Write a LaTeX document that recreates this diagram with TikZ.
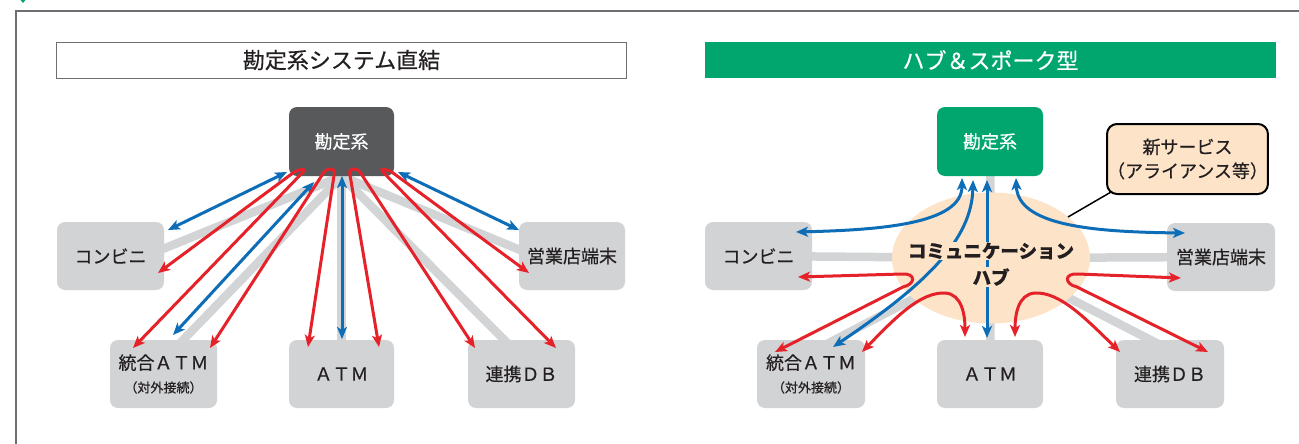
\documentclass[tikz,border=0pt]{standalone}
\usepackage{fontspec}
\setmainfont{Noto Sans CJK JP}[FakeBold=0.5]
\usetikzlibrary{arrows.meta,shapes.geometric,backgrounds,calc}
\definecolor{boxgray}{HTML}{D2D3D5}
\definecolor{darkbox}{HTML}{58595B}
\definecolor{hgreen}{HTML}{00A66E}
\definecolor{ared}{HTML}{E52229}
\definecolor{ablue}{HTML}{0D6DB7}
\definecolor{peach}{HTML}{FDE4C9}
\definecolor{txt}{HTML}{231F20}
\definecolor{linegray}{HTML}{D3D4D6}
\definecolor{framegray}{HTML}{6D6E71}
\begin{document}
\begin{tikzpicture}[x=1pt,y=-1pt,
  >={Stealth[length=12pt,width=10pt,inset=3pt]},
  every node/.style={text=txt},
  gbox/.style={fill=boxgray, rounded corners=8pt, minimum width=107pt, minimum height=68pt, inner sep=0pt, align=center, font=\fontsize{18}{23}\selectfont},
  dbox/.style={gbox, fill=darkbox, text=white, minimum width=105pt, minimum height=69pt},
  grbox/.style={gbox, fill=hgreen, text=white, minimum width=106pt, minimum height=69pt},
  gline/.style={linegray, line width=8.5pt, shorten >=-14pt, shorten <=-8pt},
  rarr/.style={ared, line width=3pt, <->},
  barr/.style={ablue, line width=3pt, <->},
  hubtext/.style={fill=peach, inner sep=1pt, font=\bfseries\fontsize{18.5}{20}\selectfont},
]
\useasboundingbox (0,0) rectangle (1299,444);
% frame and partial heading marker
\fill[hgreen] (18,-3) -- (28,-3) -- (23,3) -- cycle;
\draw[framegray, line width=1.2pt] (1299,11) -- (16,11) -- (16,444);

% titles
\node[draw=framegray, line width=0.9pt, minimum width=570pt, minimum height=36pt, inner sep=0pt, font=\fontsize{22}{24}\selectfont] (titleL) at (341.5,60) {勘定系システム直結};
\node[fill=hgreen, text=white, minimum width=571pt, minimum height=36pt, inner sep=0pt, font=\fontsize{22}{24}\selectfont] (titleR) at (990.5,60) {ハブ＆スポーク型};

% ---------- left panel boxes ----------
\node[dbox] (kL) at (341.5,141.5) {勘定系};
\node[gbox] (konL) at (110.5,256) {コンビニ};
\node[gbox, minimum width=106pt] (eigyoL) at (572,256) {営業店端末};
\node[gbox] (togoL) at (163.5,374) {統合ＡＴＭ\\{\fontsize{13}{15}\selectfont （対外接続）}};
\node[gbox, minimum width=105pt] (atmL) at (341.5,374) {ＡＴＭ};
\node[gbox] (dbL) at (521.5,374) {連携ＤＢ};

% ---------- right panel boxes ----------
\node[ellipse, fill=peach, minimum width=198pt, minimum height=131pt, inner sep=0pt] (hub) at (991,258) {};
\node[grbox] (kR) at (990,141.5) {勘定系};
\node[draw=black, line width=2pt, fill=peach, rounded corners=10pt, minimum width=157pt, minimum height=70pt, inner sep=0pt, align=center, font=\fontsize{18}{24}\selectfont] (shin) at (1187.5,159) {新サービス\\（アライアンス等）};
\node[gbox] (konR) at (758.5,256) {コンビニ};
\node[gbox, minimum width=108pt] (eigyoR) at (1221,257) {営業店端末};
\node[gbox, minimum width=108pt] (togoR) at (811,374) {統合ＡＴＭ\\{\fontsize{13}{15}\selectfont （対外接続）}};
\node[gbox, minimum width=106pt] (atmR) at (990,374) {ＡＴＭ};
\node[gbox, minimum width=108pt] (dbR) at (1170,374) {連携ＤＢ};

% gray background links
\begin{pgfonlayer}{background}
\draw[gline] (kL.south) -- (konL.8);
\draw[gline] (kL.south) -- (togoL.60);
\draw[gline] (kL.south) -- (atmL.north);
\draw[gline] (kL.south) -- (dbL.117);
\draw[gline] (kL.south) -- (eigyoL.173);
\draw[gline] (hub.center) -- (konR.center);
\draw[gline] (hub.center) -- (eigyoR.center);
\draw[gline] (hub.center) -- (kR.center);
\draw[gline] (hub.center) -- (atmR.center);
\draw[gline] (hub.center) -- (togoR.55);
\draw[gline] (hub.center) -- (dbR.120);
\end{pgfonlayer}

% callout
\coordinate (co) at (1068,217);
\draw[black, line width=1.5pt] ($(shin.south west)+(5,-3)$) -- (co);

% ---------- left panel arrows ----------
% blue
\draw[barr] (168,230) -- (287,172);
\draw[barr] (173,335) -- (314,182);
\draw[barr] (342,176) -- (342,339);
\draw[barr] (519,230) -- (398,172);
% red loops
\draw[rarr, rounded corners=4pt] (158,273) -- (297,170) -- (306,169) -- (133,348);
\draw[rarr, rounded corners=4pt] (210,348) -- (326,169) -- (335,169) -- (308,347);
\draw[rarr, rounded corners=4pt] (379,347) -- (349,169) -- (358,169) -- (475,348);
\draw[rarr, rounded corners=4pt] (556,348) -- (380,169) -- (389,170) -- (529,273);

% ---------- right panel arrows ----------
\draw[barr] (796,232) .. controls (880,230) and (962,224) .. (962,178);
\draw[barr] (833,347) .. controls (925,285) and (972,240) .. (973,180);
\draw[barr] (987,180) -- (987,338);
\draw[barr] (1016,178) .. controls (1018,225) and (1090,232) .. (1185,233);
\draw[rarr] (798,277) -- (902,274) .. controls (916,273) and (916,284) .. (903,287) -- (775,352);
\draw[rarr] (1181,278) -- (1078,274) .. controls (1064,273) and (1064,284) .. (1077,287) -- (1208,352);
\draw[rarr] (862,352) .. controls (895,318) and (920,292) .. (945,293) .. controls (962,294) and (965,315) .. (965,337);
\draw[rarr] (1015,337) .. controls (1015,315) and (1018,294) .. (1035,293) .. controls (1060,292) and (1085,318) .. (1120,352);

% hub text (covers the lines passing behind it)
\node[hubtext] (hubt1) at (991,251) {コミュニケーション};
\node[hubtext] (hubt2) at (991,277) {ハブ};
\end{tikzpicture}
\end{document}
